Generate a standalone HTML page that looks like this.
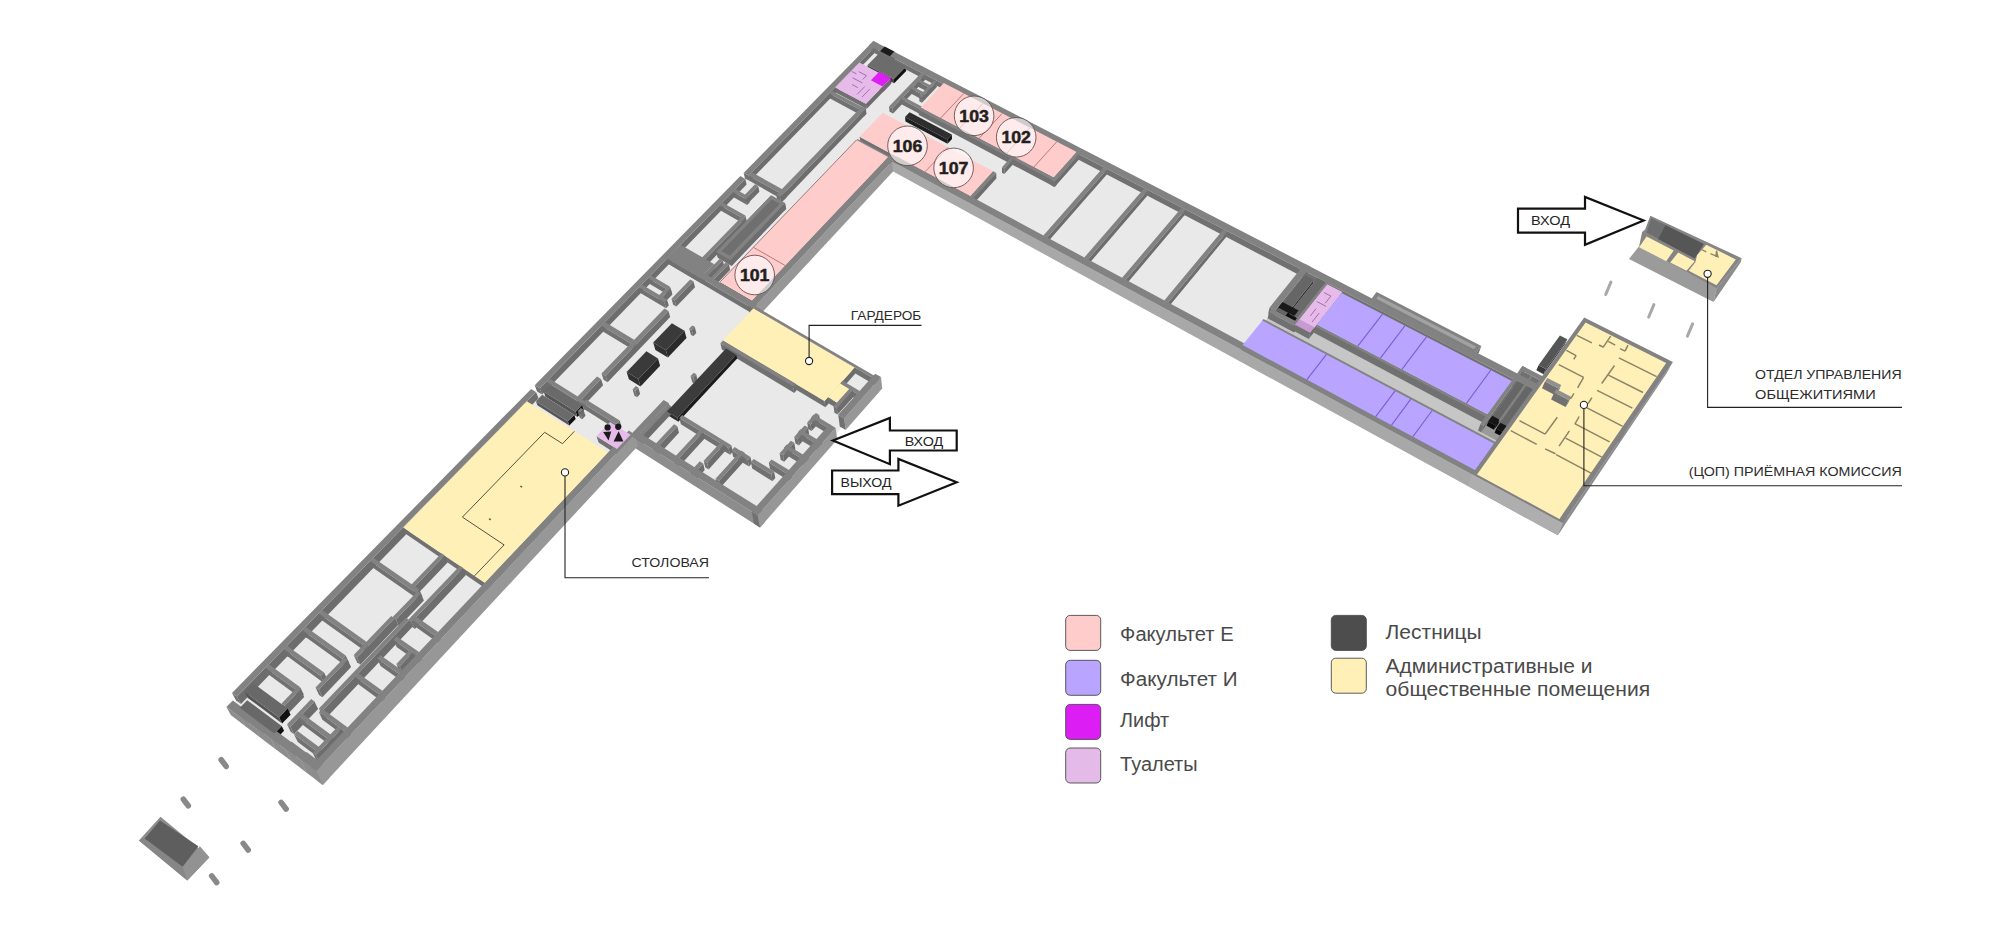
<!DOCTYPE html>
<html><head><meta charset="utf-8"><title>План 1 этажа</title>
<style>html,body{margin:0;padding:0;background:#fff}svg{display:block}text{font-family:"Liberation Sans",sans-serif}</style>
</head><body>
<svg width="2001" height="951" viewBox="0 0 2001 951">
<rect width="2001" height="951" fill="#ffffff"/>
<g shape-rendering="geometricPrecision" stroke-linejoin="round">
<polygon points="874.1,46.0 962.7,92.2 319.9,778.6 227.5,709.0" fill="#e9e9e9"/>
<polygon points="873.6,45.8 1623.2,436.4 1560.1,529.7 802.9,118.2" fill="#e9e9e9"/>
<polygon points="758.1,310.7 881.1,383.1 758.9,521.1 634.5,442.6" fill="#e9e9e9"/>
<polygon points="1581.2,323.6 1669.4,368.1 1560.1,529.7 1469.8,480.7" fill="#e9e9e9"/>
<polygon points="1276.3,307.4 1512.4,432.7 1497.1,454.3 1260.4,327.4" fill="#c6c6c6"/>
<polygon points="1519.6,377.2 1539.3,387.4 1500.3,442.5 1480.5,431.9" fill="#9a9a9a"/>
<polygon points="895.1,58.1 890.6,62.7 889.8,56.2 894.3,51.6" fill="#000"/>
<polygon points="880.9,57.7 890.6,62.7 889.8,56.2 880.1,51.2" fill="#111"/>
<polygon points="906.2,70.9 894.2,83.3 893.8,79.1 905.8,66.7" fill="#111"/>
<polygon points="868.0,69.5 894.2,83.3 893.8,79.1 867.4,65.3" fill="#444"/>
<polygon points="891.5,83.1 883.3,91.7 882.6,86.5 890.9,77.9" fill="#8a12a0"/>
<polygon points="871.6,85.5 883.3,91.7 882.6,86.5 870.9,80.3" fill="#a015b8"/>
<polygon points="931.4,90.8 929.5,92.8 929.1,87.5 931.0,85.6" fill="#6d6d6d"/>
<polygon points="916.7,86.0 929.5,92.8 929.1,87.5 916.2,80.8" fill="#717171"/>
<polygon points="924.7,97.9 922.8,99.9 922.4,94.6 924.3,92.6" fill="#6d6d6d"/>
<polygon points="910.0,93.1 922.8,99.9 922.4,94.6 909.5,87.9" fill="#717171"/>
<polygon points="936.9,86.9 922.0,102.7 921.6,97.4 936.5,81.7" fill="#6d6d6d"/>
<polygon points="919.5,101.4 922.0,102.7 921.6,97.4 919.1,96.1" fill="#717171"/>
<polygon points="890.8,83.9 866.6,109.1 865.9,103.8 890.2,78.7" fill="#6d6d6d"/>
<polygon points="835.9,92.7 866.6,109.1 865.9,103.8 835.1,87.4" fill="#717171"/>
<polygon points="926.0,78.9 893.1,113.6 892.5,108.3 925.6,73.7" fill="#6d6d6d"/>
<polygon points="889.6,111.8 893.1,113.6 892.5,108.3 889.0,106.4" fill="#717171"/>
<polygon points="923.1,112.2 920.8,114.6 920.4,109.3 922.7,106.9" fill="#6d6d6d"/>
<polygon points="900.0,103.6 920.8,114.6 920.4,109.3 899.5,98.3" fill="#717171"/>
<polygon points="866.2,114.1 863.8,116.7 863.0,111.3 865.5,108.8" fill="#6d6d6d"/>
<polygon points="830.1,98.6 863.8,116.7 863.0,111.3 829.2,93.4" fill="#717171"/>
<polygon points="952.0,138.9 947.5,143.8 947.3,139.4 951.8,134.5" fill="#111"/>
<polygon points="905.5,121.4 947.5,143.8 947.3,139.4 905.0,117.0" fill="#1e1e1e"/>
<polygon points="892.1,162.7 890.2,164.7 889.6,159.2 891.5,157.2" fill="#6d6d6d"/>
<polygon points="856.3,146.3 890.2,164.7 889.6,159.2 855.6,140.9" fill="#717171"/>
<polygon points="1012.5,165.0 1004.3,174.0 1004.3,168.5 1012.5,159.5" fill="#6d6d6d"/>
<polygon points="1002.0,172.8 1004.3,174.0 1004.3,168.5 1002.0,167.3" fill="#717171"/>
<polygon points="878.9,48.5 749.8,181.1 748.5,175.6 878.2,43.5" fill="#6d6d6d"/>
<polygon points="745.0,178.4 749.8,181.1 748.5,175.6 743.6,172.9" fill="#717171"/>
<polygon points="1076.3,157.4 1053.6,183.1 1053.8,177.5 1076.7,151.9" fill="#6d6d6d"/>
<polygon points="921.0,112.9 1053.6,183.1 1053.8,177.5 920.5,107.5" fill="#717171"/>
<polygon points="1056.7,184.7 1054.6,187.1 1054.9,181.5 1057.0,179.2" fill="#6d6d6d"/>
<polygon points="918.9,115.1 1054.6,187.1 1054.9,181.5 918.4,109.8" fill="#717171"/>
<polygon points="1079.4,159.0 1054.6,187.1 1054.9,181.5 1079.8,153.6" fill="#6d6d6d"/>
<polygon points="1051.5,185.4 1054.6,187.1 1054.9,181.5 1051.7,179.8" fill="#717171"/>
<polygon points="786.9,196.9 783.7,200.2 782.6,194.6 785.8,191.2" fill="#6d6d6d"/>
<polygon points="749.8,181.1 783.7,200.2 782.6,194.6 748.5,175.6" fill="#717171"/>
<polygon points="993.2,176.8 970.6,201.8 970.4,196.2 993.2,171.2" fill="#6d6d6d"/>
<polygon points="860.4,142.1 970.6,201.8 970.4,196.2 859.6,136.7" fill="#717171"/>
<polygon points="866.5,113.8 781.3,202.7 780.2,197.1 865.8,108.5" fill="#6d6d6d"/>
<polygon points="777.4,200.5 781.3,202.7 780.2,197.1 776.2,194.9" fill="#717171"/>
<polygon points="759.4,191.7 748.1,203.3 746.8,197.7 758.2,186.1" fill="#6d6d6d"/>
<polygon points="745.0,201.6 748.1,203.3 746.8,197.7 743.7,195.9" fill="#717171"/>
<polygon points="996.3,178.4 973.7,203.5 973.5,197.9 996.3,172.9" fill="#6d6d6d"/>
<polygon points="970.6,201.8 973.7,203.5 973.5,197.9 970.4,196.2" fill="#717171"/>
<polygon points="749.8,202.2 747.2,204.9 745.9,199.2 748.5,196.6" fill="#6d6d6d"/>
<polygon points="734.0,197.4 747.2,204.9 745.9,199.2 732.6,191.8" fill="#717171"/>
<polygon points="786.2,208.7 783.8,211.2 782.7,205.6 785.1,203.1" fill="#6d6d6d"/>
<polygon points="770.0,203.4 783.8,211.2 782.7,205.6 768.8,197.8" fill="#717171"/>
<polygon points="746.7,221.3 744.1,224.0 742.7,218.3 745.4,215.6" fill="#6d6d6d"/>
<polygon points="721.0,210.8 744.1,224.0 742.7,218.3 719.5,205.1" fill="#717171"/>
<polygon points="1106.8,174.5 1046.8,243.1 1047.1,237.4 1107.3,169.0" fill="#6d6d6d"/>
<polygon points="1043.2,241.2 1046.8,243.1 1047.1,237.4 1043.4,235.4" fill="#717171"/>
<polygon points="774.9,203.0 721.1,259.1 719.6,253.2 773.8,197.4" fill="#6d6d6d"/>
<polygon points="718.1,257.3 721.1,259.1 719.6,253.2 716.6,251.5" fill="#717171"/>
<polygon points="1147.3,195.7 1087.6,265.3 1088.1,259.4 1148.0,190.1" fill="#6d6d6d"/>
<polygon points="1083.9,263.3 1087.6,265.3 1088.1,259.4 1084.4,257.4" fill="#717171"/>
<polygon points="785.8,209.1 732.0,265.4 730.6,259.6 784.7,203.5" fill="#6d6d6d"/>
<polygon points="718.1,257.3 732.0,265.4 730.6,259.6 716.6,251.5" fill="#717171"/>
<polygon points="785.8,209.1 732.0,265.4 730.6,259.6 784.7,203.5" fill="#6d6d6d"/>
<polygon points="729.1,263.7 732.0,265.4 730.6,259.6 727.6,257.8" fill="#717171"/>
<polygon points="734.1,263.3 731.6,265.9 730.2,260.0 732.7,257.4" fill="#6d6d6d"/>
<polygon points="717.7,257.8 731.6,265.9 730.2,260.0 716.2,251.9" fill="#717171"/>
<polygon points="747.0,223.5 705.8,266.3 704.2,260.5 745.6,217.8" fill="#6d6d6d"/>
<polygon points="702.6,264.5 705.8,266.3 704.2,260.5 701.0,258.6" fill="#717171"/>
<polygon points="724.2,266.3 709.2,282.0 707.7,276.0 722.8,260.4" fill="#6d6d6d"/>
<polygon points="706.3,280.2 709.2,282.0 707.7,276.0 704.7,274.3" fill="#717171"/>
<polygon points="715.4,269.9 702.0,283.8 700.4,277.9 713.9,264.0" fill="#6d6d6d"/>
<polygon points="668.9,264.3 702.0,283.8 700.4,277.9 667.1,258.5" fill="#717171"/>
<polygon points="730.2,269.8 715.2,285.5 713.7,279.6 728.8,263.9" fill="#6d6d6d"/>
<polygon points="712.2,283.7 715.2,285.5 713.7,279.6 710.7,277.8" fill="#717171"/>
<polygon points="1184.5,215.2 1125.2,285.6 1125.8,279.7 1185.5,209.5" fill="#6d6d6d"/>
<polygon points="1121.5,283.6 1125.2,285.6 1125.8,279.7 1122.1,277.7" fill="#717171"/>
<polygon points="671.7,292.6 669.0,295.4 667.3,289.5 670.0,286.7" fill="#6d6d6d"/>
<polygon points="649.8,284.0 669.0,295.4 667.3,289.5 647.9,278.0" fill="#717171"/>
<polygon points="672.4,294.5 663.0,304.2 661.3,298.2 670.7,288.6" fill="#6d6d6d"/>
<polygon points="659.8,302.3 663.0,304.2 661.3,298.2 658.1,296.3" fill="#717171"/>
<polygon points="888.6,162.4 753.3,306.5 752.0,300.5 888.1,156.9" fill="#6d6d6d"/>
<polygon points="721.6,287.8 753.3,306.5 752.0,300.5 720.1,281.9" fill="#717171"/>
<polygon points="695.0,287.3 676.4,306.6 674.7,300.6 693.4,281.3" fill="#6d6d6d"/>
<polygon points="673.2,304.7 676.4,306.6 674.7,300.6 671.5,298.7" fill="#717171"/>
<polygon points="668.8,305.4 666.0,308.3 664.3,302.3 667.0,299.4" fill="#6d6d6d"/>
<polygon points="640.8,293.2 666.0,308.3 664.3,302.3 638.9,287.2" fill="#717171"/>
<polygon points="1226.2,237.0 1167.3,308.4 1168.1,302.4 1227.4,231.2" fill="#6d6d6d"/>
<polygon points="1163.5,306.4 1167.3,308.4 1168.1,302.4 1164.3,300.4" fill="#717171"/>
<polygon points="758.5,310.2 754.3,314.7 753.0,308.7 757.2,304.2" fill="#6d6d6d"/>
<polygon points="668.9,264.3 754.3,314.7 753.0,308.7 667.1,258.5" fill="#717171"/>
<polygon points="1308.8,272.6 1273.9,316.5 1275.3,310.4 1310.4,266.7" fill="#6d6d6d"/>
<polygon points="1268.2,313.4 1273.9,316.5 1275.3,310.4 1269.6,307.4" fill="#717171"/>
<polygon points="897.7,166.6 755.8,319.2 753.4,308.2 896.7,156.6" fill="#979797"/>
<polygon points="750.2,315.9 755.8,319.2 753.4,308.2 747.8,304.9" fill="#717171"/>
<polygon points="1313.0,283.5 1284.6,319.5 1285.5,315.7 1314.0,279.8" fill="#333"/>
<polygon points="1275.4,314.7 1284.6,319.5 1285.5,315.7 1276.3,310.8" fill="#111"/>
<polygon points="1297.2,315.9 1292.9,321.4 1294.2,315.9 1298.6,310.4" fill="#000"/>
<polygon points="1276.8,312.8 1292.9,321.4 1294.2,315.9 1278.1,307.4" fill="#0a0a0a"/>
<polygon points="1324.7,287.1 1296.3,323.2 1297.6,318.3 1326.1,282.3" fill="#333"/>
<polygon points="1287.7,318.6 1296.3,323.2 1297.6,318.3 1288.9,313.7" fill="#111"/>
<polygon points="1327.0,288.3 1295.8,328.1 1297.3,322.0 1328.7,282.4" fill="#6d6d6d"/>
<polygon points="1293.5,326.9 1295.8,328.1 1297.3,322.0 1295.0,320.8" fill="#717171"/>
<polygon points="1296.9,328.7 1294.1,332.4 1295.6,326.3 1298.4,322.6" fill="#6d6d6d"/>
<polygon points="1267.6,318.3 1294.1,332.4 1295.6,326.3 1269.0,312.2" fill="#717171"/>
<polygon points="1340.6,298.0 1312.3,334.3 1313.8,328.2 1342.3,292.0" fill="#6d6d6d"/>
<polygon points="1297.2,326.3 1312.3,334.3 1313.8,328.2 1298.7,320.2" fill="#717171"/>
<polygon points="696.3,332.9 693.3,336.2 691.7,330.1 694.8,326.8" fill="#6d6d6d"/>
<polygon points="690.9,334.7 693.3,336.2 691.7,330.1 689.2,328.6" fill="#717171"/>
<polygon points="1313.0,333.4 1308.7,338.9 1310.2,332.7 1314.6,327.3" fill="#6d6d6d"/>
<polygon points="1293.6,330.8 1308.7,338.9 1310.2,332.7 1295.1,324.7" fill="#717171"/>
<polygon points="636.1,346.0 632.6,349.6 630.7,343.4 634.2,339.8" fill="#6d6d6d"/>
<polygon points="603.3,331.7 632.6,349.6 630.7,343.4 601.3,325.6" fill="#717171"/>
<polygon points="1473.7,352.7 1471.6,355.5 1474.0,349.3 1476.1,346.5" fill="#6d6d6d"/>
<polygon points="1374.4,304.8 1471.6,355.5 1474.0,349.3 1376.3,298.8" fill="#717171"/>
<polygon points="686.5,338.0 667.9,357.5 665.9,350.2 684.5,330.8" fill="#2a2a2a"/>
<polygon points="655.4,349.9 667.9,357.5 665.9,350.2 653.2,342.6" fill="#303030"/>
<polygon points="1479.0,352.2 1474.2,358.8 1476.6,352.6 1481.4,346.1" fill="#6d6d6d"/>
<polygon points="1369.8,304.4 1474.2,358.8 1476.6,352.6 1371.7,298.4" fill="#717171"/>
<polygon points="1564.9,344.2 1543.6,374.2 1545.9,369.0 1567.3,339.2" fill="#333"/>
<polygon points="1536.3,370.3 1543.6,374.2 1545.9,369.0 1538.5,365.2" fill="#3a3a3a"/>
<polygon points="670.2,317.0 607.6,382.3 605.6,376.0 668.5,310.9" fill="#6d6d6d"/>
<polygon points="603.6,379.8 607.6,382.3 605.6,376.0 601.5,373.5" fill="#717171"/>
<polygon points="697.8,380.5 694.7,383.8 693.1,377.6 696.2,374.2" fill="#6d6d6d"/>
<polygon points="692.2,382.3 694.7,383.8 693.1,377.6 690.6,376.1" fill="#717171"/>
<polygon points="660.1,365.7 640.5,386.5 638.3,379.0 658.0,358.4" fill="#2a2a2a"/>
<polygon points="628.9,379.3 640.5,386.5 638.3,379.0 626.6,371.9" fill="#303030"/>
<polygon points="880.2,385.1 878.3,387.1 877.7,380.8 879.5,378.8" fill="#6d6d6d"/>
<polygon points="754.7,314.3 878.3,387.1 877.7,380.8 753.4,308.2" fill="#717171"/>
<polygon points="1543.2,384.3 1540.5,388.1 1543.3,381.8 1546.0,378.0" fill="#6d6d6d"/>
<polygon points="1517.1,375.9 1540.5,388.1 1543.3,381.8 1519.8,369.7" fill="#717171"/>
<polygon points="796.8,390.1 794.3,392.9 793.2,386.6 795.8,383.8" fill="#6d6d6d"/>
<polygon points="721.8,349.4 794.3,392.9 793.2,386.6 720.4,343.2" fill="#717171"/>
<polygon points="746.6,184.4 542.1,394.6 539.7,388.3 745.3,178.9" fill="#6d6d6d"/>
<polygon points="537.1,391.5 542.1,394.6 539.7,388.3 534.7,385.2" fill="#717171"/>
<polygon points="640.2,393.9 637.0,397.3 635.1,391.0 638.3,387.6" fill="#6d6d6d"/>
<polygon points="634.5,395.8 637.0,397.3 635.1,391.0 632.6,389.4" fill="#717171"/>
<polygon points="860.4,397.2 857.9,400.0 857.2,393.7 859.7,390.9" fill="#6d6d6d"/>
<polygon points="840.9,389.9 857.9,400.0 857.2,393.7 840.1,383.6" fill="#717171"/>
<polygon points="603.1,385.3 582.6,406.7 580.4,400.4 601.0,379.1" fill="#6d6d6d"/>
<polygon points="578.5,404.2 582.6,406.7 580.4,400.4 576.3,397.8" fill="#717171"/>
<polygon points="855.4,373.6 825.4,407.2 824.5,400.9 854.7,367.4" fill="#6d6d6d"/>
<polygon points="724.4,346.6 825.4,407.2 824.5,400.9 722.9,340.5" fill="#717171"/>
<polygon points="852.0,395.7 839.4,409.8 838.5,403.5 851.2,389.4" fill="#6d6d6d"/>
<polygon points="828.8,403.5 839.4,409.8 838.5,403.5 827.8,397.1" fill="#717171"/>
<polygon points="586.9,407.2 584.2,410.0 582.1,403.7 584.8,400.9" fill="#6d6d6d"/>
<polygon points="548.8,387.7 584.2,410.0 582.1,403.7 546.5,381.4" fill="#717171"/>
<polygon points="853.6,396.7 837.6,414.6 836.8,408.2 852.8,390.4" fill="#6d6d6d"/>
<polygon points="834.4,412.7 837.6,414.6 836.8,408.2 833.6,406.3" fill="#717171"/>
<polygon points="583.8,410.5 577.5,417.1 575.7,411.8 582.0,405.3" fill="#111"/>
<polygon points="545.5,396.8 577.5,417.1 575.7,411.8 543.6,391.6" fill="#555"/>
<polygon points="585.5,415.8 582.2,419.2 580.1,412.8 583.3,409.4" fill="#6d6d6d"/>
<polygon points="579.8,417.7 582.2,419.2 580.1,412.8 577.6,411.3" fill="#717171"/>
<polygon points="1510.2,387.9 1486.2,421.5 1488.7,415.1 1512.8,381.6" fill="#6d6d6d"/>
<polygon points="1315.1,330.6 1486.2,421.5 1488.7,415.1 1316.7,324.5" fill="#717171"/>
<polygon points="737.2,358.6 678.4,421.8 677.3,417.7 736.3,354.7" fill="#1c1c1c"/>
<polygon points="668.1,415.4 678.4,421.8 677.3,417.7 667.0,411.4" fill="#2c2c2c"/>
<polygon points="1486.2,421.5 1484.7,423.6 1487.1,417.2 1488.7,415.1" fill="#6d6d6d"/>
<polygon points="1313.5,332.6 1484.7,423.6 1487.1,417.2 1315.1,326.5" fill="#717171"/>
<polygon points="1526.8,383.6 1497.5,424.8 1498.6,421.9 1528.1,380.7" fill="#444"/>
<polygon points="1490.0,420.9 1497.5,424.8 1498.6,421.9 1491.2,418.0" fill="#111"/>
<polygon points="575.7,419.0 569.3,425.6 567.9,421.5 574.3,414.9" fill="#111"/>
<polygon points="537.4,405.2 569.3,425.6 567.9,421.5 535.9,401.2" fill="#555"/>
<polygon points="1530.1,382.7 1498.0,427.8 1500.5,421.3 1532.8,376.4" fill="#6d6d6d"/>
<polygon points="1496.1,426.8 1498.0,427.8 1500.5,421.3 1498.7,420.3" fill="#717171"/>
<polygon points="1498.2,423.8 1494.0,429.7 1495.6,425.6 1499.8,419.8" fill="#000"/>
<polygon points="1486.6,425.7 1494.0,429.7 1495.6,425.6 1488.2,421.6" fill="#0a0a0a"/>
<polygon points="882.2,388.5 845.7,430.1 844.2,418.4 881.0,377.1" fill="#979797"/>
<polygon points="839.8,426.5 845.7,430.1 844.2,418.4 838.2,414.8" fill="#717171"/>
<polygon points="621.6,426.9 618.1,430.6 616.1,424.2 619.7,420.4" fill="#6d6d6d"/>
<polygon points="584.7,409.6 618.1,430.6 616.1,424.2 582.5,403.2" fill="#717171"/>
<polygon points="820.1,421.5 811.6,431.0 810.6,424.6 819.2,415.1" fill="#6d6d6d"/>
<polygon points="808.2,429.0 811.6,431.0 810.6,424.6 807.2,422.5" fill="#717171"/>
<polygon points="1536.1,388.4 1505.4,431.7 1506.6,428.8 1537.3,385.5" fill="#444"/>
<polygon points="1498.1,427.8 1505.4,431.7 1506.6,428.8 1499.2,424.9" fill="#111"/>
<polygon points="1522.9,373.7 1481.1,432.2 1483.6,425.7 1525.6,367.5" fill="#6d6d6d"/>
<polygon points="1478.0,430.5 1481.1,432.2 1483.6,425.7 1480.4,424.1" fill="#717171"/>
<polygon points="831.8,431.3 829.1,434.4 828.2,427.9 830.9,424.9" fill="#6d6d6d"/>
<polygon points="812.0,424.1 829.1,434.4 828.2,427.9 811.0,417.6" fill="#717171"/>
<polygon points="1506.1,430.7 1501.9,436.6 1503.6,432.4 1507.7,426.6" fill="#000"/>
<polygon points="1494.6,432.7 1501.9,436.6 1503.6,432.4 1496.2,428.6" fill="#0a0a0a"/>
<polygon points="1623.2,436.4 1619.2,442.3 1622.4,435.8 1626.4,429.9" fill="#6d6d6d"/>
<polygon points="869.6,50.6 1619.2,442.3 1622.4,435.8 868.9,45.5" fill="#717171"/>
<polygon points="1543.8,384.6 1502.2,443.4 1504.8,437.0 1546.6,378.3" fill="#6d6d6d"/>
<polygon points="1499.1,441.8 1502.2,443.4 1504.8,437.0 1501.6,435.3" fill="#717171"/>
<polygon points="670.4,409.5 637.6,444.5 635.7,438.0 668.7,403.1" fill="#6d6d6d"/>
<polygon points="632.5,441.3 637.6,444.5 635.7,438.0 630.6,434.8" fill="#717171"/>
<polygon points="809.1,433.9 798.8,445.4 797.8,438.9 808.1,427.4" fill="#6d6d6d"/>
<polygon points="795.4,443.3 798.8,445.4 797.8,438.9 794.3,436.8" fill="#717171"/>
<polygon points="672.7,412.4 640.8,446.5 638.9,440.0 671.0,406.0" fill="#6d6d6d"/>
<polygon points="637.5,444.5 640.8,446.5 638.9,440.0 635.6,438.0" fill="#717171"/>
<polygon points="1495.1,449.8 1494.1,451.3 1496.6,444.8 1497.7,443.3" fill="#6d6d6d"/>
<polygon points="1261.1,326.5 1494.1,451.3 1496.6,444.8 1262.4,320.4" fill="#717171"/>
<polygon points="824.0,449.5 821.2,452.6 820.3,446.0 823.0,443.0" fill="#6d6d6d"/>
<polygon points="798.7,438.9 821.2,452.6 820.3,446.0 797.7,432.4" fill="#717171"/>
<polygon points="732.8,451.7 730.0,454.8 728.6,448.3 731.4,445.2" fill="#6d6d6d"/>
<polygon points="680.9,424.3 730.0,454.8 728.6,448.3 679.3,417.9" fill="#717171"/>
<polygon points="632.5,441.3 619.0,455.7 617.0,449.1 630.6,434.8" fill="#6d6d6d"/>
<polygon points="598.6,442.6 619.0,455.7 617.0,449.1 596.5,436.2" fill="#717171"/>
<polygon points="679.0,432.7 657.7,455.7 655.9,449.1 677.3,426.3" fill="#6d6d6d"/>
<polygon points="654.4,453.6 657.7,455.7 655.9,449.1 652.6,447.1" fill="#717171"/>
<polygon points="795.4,449.3 784.2,461.8 783.0,455.3 794.3,442.7" fill="#6d6d6d"/>
<polygon points="780.7,459.7 784.2,461.8 783.0,455.3 779.6,453.2" fill="#717171"/>
<polygon points="751.8,463.5 749.0,466.6 747.7,460.1 750.5,457.0" fill="#6d6d6d"/>
<polygon points="733.1,456.8 749.0,466.6 747.7,460.1 731.7,450.2" fill="#717171"/>
<polygon points="704.9,438.3 678.4,467.2 676.7,460.6 703.4,431.8" fill="#6d6d6d"/>
<polygon points="675.0,465.1 678.4,467.2 676.7,460.6 673.3,458.5" fill="#717171"/>
<polygon points="810.3,465.0 807.5,468.1 806.5,461.5 809.3,458.4" fill="#6d6d6d"/>
<polygon points="785.0,454.2 807.5,468.1 806.5,461.5 783.9,447.7" fill="#717171"/>
<polygon points="727.1,449.1 708.6,469.4 707.1,462.8 725.7,442.6" fill="#6d6d6d"/>
<polygon points="705.2,467.3 708.6,469.4 707.1,462.8 703.7,460.7" fill="#717171"/>
<polygon points="1494.1,451.3 1475.1,478.0 1477.6,471.4 1496.6,444.8" fill="#6d6d6d"/>
<polygon points="1241.4,351.2 1475.1,478.0 1477.6,471.4 1242.6,345.1" fill="#717171"/>
<polygon points="704.7,470.0 695.0,480.7 693.4,474.1 703.2,463.4" fill="#6d6d6d"/>
<polygon points="691.6,478.6 695.0,480.7 693.4,474.1 690.0,472.0" fill="#717171"/>
<polygon points="792.1,477.9 789.4,481.1 788.2,474.4 791.0,471.3" fill="#6d6d6d"/>
<polygon points="770.0,469.1 789.4,481.1 788.2,474.4 768.8,462.5" fill="#717171"/>
<polygon points="775.3,478.1 772.5,481.2 771.3,474.6 774.1,471.5" fill="#6d6d6d"/>
<polygon points="752.2,468.6 772.5,481.2 771.3,474.6 750.9,462.0" fill="#717171"/>
<polygon points="745.9,459.3 720.4,487.5 718.9,480.9 744.6,452.7" fill="#6d6d6d"/>
<polygon points="717.0,485.4 720.4,487.5 718.9,480.9 715.5,478.7" fill="#717171"/>
<polygon points="1662.8,369.2 1556.6,525.7 1559.4,518.9 1666.2,362.9" fill="#6d6d6d"/>
<polygon points="1474.6,481.2 1556.6,525.7 1559.4,518.9 1477.0,474.6" fill="#717171"/>
<polygon points="764.9,522.0 760.0,527.5 757.7,515.2 762.6,509.7" fill="#979797"/>
<polygon points="635.7,448.4 760.0,527.5 757.7,515.2 632.2,436.6" fill="#8d8d8d"/>
<polygon points="837.2,439.6 760.0,527.5 757.7,515.2 835.7,427.9" fill="#979797"/>
<polygon points="754.1,523.8 760.0,527.5 757.7,515.2 751.7,511.4" fill="#717171"/>
<polygon points="1561.9,529.1 1557.7,535.3 1562.9,522.9 1567.1,516.8" fill="#979797"/>
<polygon points="893.1,171.5 1557.7,535.3 1562.9,522.9 892.0,161.5" fill="#a8a8a8"/>
<polygon points="1666.6,373.2 1557.7,535.3 1562.9,522.9 1672.9,361.9" fill="#8c8c8c"/>
<polygon points="1467.9,486.1 1557.7,535.3 1562.9,522.9 1472.2,474.0" fill="#aeaeae"/>
<polygon points="610.0,459.2 487.4,589.7 484.8,582.7 608.0,452.6" fill="#6d6d6d"/>
<polygon points="406.3,534.2 487.4,589.7 484.8,582.7 403.2,527.4" fill="#717171"/>
<polygon points="447.6,562.5 417.3,594.2 414.3,587.1 444.7,555.5" fill="#6d6d6d"/>
<polygon points="414.0,591.9 417.3,594.2 414.3,587.1 411.0,584.9" fill="#717171"/>
<polygon points="422.4,596.7 419.2,600.0 416.2,592.9 419.4,589.6" fill="#6d6d6d"/>
<polygon points="373.3,568.0 419.2,600.0 416.2,592.9 370.1,561.1" fill="#717171"/>
<polygon points="423.9,600.5 399.1,626.6 396.0,619.4 420.9,593.5" fill="#6d6d6d"/>
<polygon points="395.9,624.3 399.1,626.6 396.0,619.4 392.7,617.1" fill="#717171"/>
<polygon points="465.9,575.0 414.9,628.9 411.8,621.7 463.2,568.1" fill="#6d6d6d"/>
<polygon points="411.6,626.6 414.9,628.9 411.8,621.7 408.5,619.4" fill="#717171"/>
<polygon points="441.0,639.2 437.8,642.6 434.9,635.4 438.1,632.0" fill="#6d6d6d"/>
<polygon points="413.6,625.6 437.8,642.6 434.9,635.4 410.5,618.4" fill="#717171"/>
<polygon points="369.4,648.6 366.2,652.0 362.9,644.8 366.1,641.4" fill="#6d6d6d"/>
<polygon points="322.2,620.5 366.2,652.0 362.9,644.8 318.7,613.4" fill="#717171"/>
<polygon points="422.0,659.4 418.8,662.8 415.8,655.5 419.0,652.1" fill="#6d6d6d"/>
<polygon points="396.6,647.0 418.8,662.8 415.8,655.5 393.5,639.8" fill="#717171"/>
<polygon points="397.6,625.5 360.3,664.7 357.0,657.4 394.5,618.3" fill="#6d6d6d"/>
<polygon points="357.0,662.3 360.3,664.7 357.0,657.4 353.7,655.0" fill="#717171"/>
<polygon points="349.1,662.7 345.8,666.1 342.4,658.8 345.7,655.4" fill="#6d6d6d"/>
<polygon points="305.9,637.3 345.8,666.1 342.4,658.8 302.3,630.1" fill="#717171"/>
<polygon points="416.9,658.6 402.8,673.6 399.7,666.3 413.9,651.3" fill="#6d6d6d"/>
<polygon points="399.5,671.2 402.8,673.6 399.7,666.3 396.4,663.9" fill="#717171"/>
<polygon points="404.9,677.6 401.7,681.1 398.6,673.7 401.8,670.3" fill="#6d6d6d"/>
<polygon points="380.5,665.9 401.7,681.1 398.6,673.7 377.3,658.6" fill="#717171"/>
<polygon points="327.5,679.8 324.2,683.2 320.7,675.9 324.1,672.4" fill="#6d6d6d"/>
<polygon points="287.4,656.3 324.2,683.2 320.7,675.9 283.7,649.0" fill="#717171"/>
<polygon points="351.1,667.1 322.3,697.2 318.8,689.8 347.7,659.8" fill="#6d6d6d"/>
<polygon points="319.0,694.9 322.3,697.2 318.8,689.8 315.5,687.5" fill="#717171"/>
<polygon points="303.8,694.6 300.5,698.1 296.9,690.6 300.2,687.2" fill="#6d6d6d"/>
<polygon points="269.2,675.0 300.5,698.1 296.9,690.6 265.5,667.7" fill="#717171"/>
<polygon points="385.6,698.2 382.3,701.7 379.1,694.3 382.4,690.8" fill="#6d6d6d"/>
<polygon points="357.0,683.3 382.3,701.7 379.1,694.3 353.7,676.0" fill="#717171"/>
<polygon points="538.5,398.3 241.0,704.0 237.0,696.6 536.0,392.0" fill="#6d6d6d"/>
<polygon points="236.0,700.3 241.0,704.0 237.0,696.6 232.0,692.9" fill="#717171"/>
<polygon points="304.2,696.9 288.5,713.3 284.8,705.8 300.6,689.5" fill="#6d6d6d"/>
<polygon points="285.3,710.8 288.5,713.3 284.8,705.8 281.6,703.4" fill="#717171"/>
<polygon points="412.3,627.1 325.7,718.4 322.2,710.9 409.2,619.9" fill="#6d6d6d"/>
<polygon points="322.4,715.9 325.7,718.4 322.2,710.9 318.9,708.5" fill="#717171"/>
<polygon points="290.6,714.8 282.1,723.5 279.1,717.4 287.6,708.6" fill="#111"/>
<polygon points="247.8,697.9 282.1,723.5 279.1,717.4 244.6,691.8" fill="#555"/>
<polygon points="252.1,719.9 245.7,726.4 241.5,718.3 247.8,711.7" fill="#979797"/>
<polygon points="230.8,715.1 245.7,726.4 241.5,718.3 226.4,706.9" fill="#8d8d8d"/>
<polygon points="318.1,709.0 294.0,734.3 290.3,726.7 314.5,701.5" fill="#6d6d6d"/>
<polygon points="290.7,731.8 294.0,734.3 290.3,726.7 287.0,724.3" fill="#717171"/>
<polygon points="267.2,731.3 260.8,737.9 256.1,728.6 262.5,722.0" fill="#979797"/>
<polygon points="245.7,726.4 260.8,737.9 256.1,728.6 240.9,717.2" fill="#8d8d8d"/>
<polygon points="284.1,730.7 276.7,738.4 274.3,733.6 281.7,725.9" fill="#111"/>
<polygon points="242.3,712.5 276.7,738.4 274.3,733.6 239.8,707.8" fill="#555"/>
<polygon points="351.0,735.0 347.7,738.5 344.3,731.0 347.7,727.5" fill="#6d6d6d"/>
<polygon points="322.4,719.8 347.7,738.5 344.3,731.0 318.9,712.3" fill="#717171"/>
<polygon points="335.4,743.2 332.1,746.8 328.6,739.2 332.0,735.6" fill="#6d6d6d"/>
<polygon points="301.2,723.8 332.1,746.8 328.6,739.2 297.5,716.3" fill="#717171"/>
<polygon points="282.4,742.7 276.0,749.4 270.8,739.0 277.2,732.3" fill="#979797"/>
<polygon points="260.8,737.9 276.0,749.4 270.8,739.0 255.5,727.5" fill="#8d8d8d"/>
<polygon points="323.9,755.5 320.5,759.1 317.0,751.4 320.4,747.9" fill="#6d6d6d"/>
<polygon points="297.8,742.1 320.5,759.1 317.0,751.4 294.1,734.5" fill="#717171"/>
<polygon points="297.7,754.3 291.3,761.0 285.7,749.4 292.1,742.7" fill="#979797"/>
<polygon points="276.0,749.4 291.3,761.0 285.7,749.4 270.3,737.9" fill="#8d8d8d"/>
<polygon points="344.8,736.2 319.6,763.0 316.1,755.4 341.4,728.7" fill="#6d6d6d"/>
<polygon points="316.3,760.5 319.6,763.0 316.1,755.4 312.7,752.9" fill="#717171"/>
<polygon points="313.1,766.0 306.7,772.7 300.7,759.9 307.1,753.2" fill="#979797"/>
<polygon points="291.3,761.0 306.7,772.7 300.7,759.9 285.2,748.3" fill="#8d8d8d"/>
<polygon points="637.9,446.0 322.8,784.9 316.4,770.9 634.4,434.2" fill="#979797"/>
<polygon points="317.1,780.6 322.8,784.9 316.4,770.9 310.6,766.6" fill="#717171"/>
<polygon points="329.1,778.1 322.8,784.9 316.4,770.9 322.7,764.1" fill="#979797"/>
<polygon points="306.7,772.7 322.8,784.9 316.4,770.9 300.2,758.8" fill="#8d8d8d"/>
<polygon points="232.8,700.4 247.8,711.7 241.5,718.3 226.4,706.9" fill="#828282"/>
<polygon points="247.3,710.6 262.5,722.0 256.1,728.6 240.9,717.2" fill="#828282"/>
<polygon points="1520.7,376.9 1528.1,380.7 1498.6,421.9 1491.2,418.0" fill="#666"/>
<polygon points="1530.0,381.7 1537.3,385.5 1506.6,428.8 1499.2,424.9" fill="#666"/>
<polygon points="261.9,720.9 277.2,732.3 270.8,739.0 255.5,727.5" fill="#828282"/>
<polygon points="542.2,394.7 574.3,414.9 567.9,421.5 535.9,401.2" fill="#6a6a6a"/>
<polygon points="726.0,348.5 736.3,354.7 677.3,417.7 667.0,411.4" fill="#3c3c3c"/>
<polygon points="247.2,700.2 281.7,725.9 274.3,733.6 239.8,707.8" fill="#686868"/>
<polygon points="1304.9,275.0 1314.0,279.8 1285.5,315.7 1276.3,310.8" fill="#666"/>
<polygon points="1492.3,415.8 1499.8,419.8 1495.6,425.6 1488.2,421.6" fill="#151515"/>
<polygon points="1500.4,422.7 1507.7,426.6 1503.6,432.4 1496.2,428.6" fill="#151515"/>
<polygon points="276.7,731.2 292.1,742.7 285.7,749.4 270.3,737.9" fill="#828282"/>
<polygon points="549.9,385.2 582.0,405.3 575.7,411.8 543.6,391.6" fill="#6a6a6a"/>
<polygon points="253.1,683.2 287.6,708.6 279.1,717.4 244.6,691.8" fill="#686868"/>
<polygon points="879.4,53.0 905.8,66.7 893.8,79.1 867.4,65.3" fill="#6c6c6c"/>
<polygon points="909.6,112.2 951.8,134.5 947.3,139.4 905.0,117.0" fill="#2e2e2e"/>
<polygon points="1317.4,277.8 1326.1,282.3 1297.6,318.3 1288.9,313.7" fill="#6a6a6a"/>
<polygon points="1559.9,335.4 1567.3,339.2 1545.9,369.0 1538.5,365.2" fill="#555"/>
<polygon points="291.5,741.6 307.1,753.2 300.7,759.9 285.2,748.3" fill="#828282"/>
<polygon points="1282.4,302.0 1298.6,310.4 1294.2,315.9 1278.1,307.4" fill="#1a1a1a"/>
<polygon points="873.4,41.0 878.2,43.5 748.5,175.6 743.6,172.9" fill="#828282"/>
<polygon points="740.4,176.1 745.3,178.9 539.7,388.3 534.7,385.2" fill="#828282"/>
<polygon points="531.1,388.9 536.0,392.0 237.0,696.6 232.0,692.9" fill="#828282"/>
<polygon points="891.1,153.6 896.7,156.6 753.4,308.2 747.8,304.9" fill="#828282"/>
<polygon points="628.8,430.6 634.4,434.2 316.4,770.9 310.6,766.6" fill="#828282"/>
<polygon points="306.6,752.1 322.7,764.1 316.4,770.9 300.2,758.8" fill="#828282"/>
<polygon points="831.7,90.9 865.5,108.8 863.0,111.3 829.2,93.4" fill="#828282"/>
<polygon points="861.8,106.4 865.8,108.5 780.2,197.1 776.2,194.9" fill="#828282"/>
<polygon points="751.7,172.3 785.8,191.2 782.6,194.6 748.5,175.6" fill="#828282"/>
<polygon points="857.5,138.9 891.5,157.2 889.6,159.2 855.6,140.9" fill="#828282"/>
<polygon points="856.5,139.9 888.1,156.9 752.0,300.5 720.1,281.9" fill="#ffcccc"/>
<polygon points="882.7,112.7 993.2,171.2 970.4,196.2 859.6,136.7" fill="#ffcccc"/>
<polygon points="722.2,202.4 745.4,215.6 742.7,218.3 719.5,205.1" fill="#828282"/>
<polygon points="742.5,216.0 745.6,217.8 704.2,260.5 701.0,258.6" fill="#828282"/>
<polygon points="680.6,244.7 713.9,264.0 700.4,277.9 667.1,258.5" fill="#828282"/>
<polygon points="755.0,184.3 758.2,186.1 746.8,197.7 743.7,195.9" fill="#828282"/>
<polygon points="735.2,189.1 748.5,196.6 745.9,199.2 732.6,191.8" fill="#828282"/>
<polygon points="770.8,195.7 784.7,203.5 730.6,259.6 716.6,251.5" fill="#6f6f6f"/>
<polygon points="770.8,195.7 773.8,197.4 719.6,253.2 716.6,251.5" fill="#828282"/>
<polygon points="781.7,201.8 784.7,203.5 730.6,259.6 727.6,257.8" fill="#828282"/>
<polygon points="771.2,195.3 785.1,203.1 782.7,205.6 768.8,197.8" fill="#828282"/>
<polygon points="718.7,249.4 732.7,257.4 730.2,260.0 716.2,251.9" fill="#828282"/>
<polygon points="719.8,258.7 722.8,260.4 707.7,276.0 704.7,274.3" fill="#828282"/>
<polygon points="725.8,262.2 728.8,263.9 713.7,279.6 710.7,277.8" fill="#828282"/>
<polygon points="671.4,254.2 757.2,304.2 753.0,308.7 667.1,258.5" fill="#828282"/>
<polygon points="650.7,275.3 670.0,286.7 667.3,289.5 647.9,278.0" fill="#828282"/>
<polygon points="641.7,284.4 667.0,299.4 664.3,302.3 638.9,287.2" fill="#828282"/>
<polygon points="690.2,279.4 693.4,281.3 674.7,300.6 671.5,298.7" fill="#828282"/>
<polygon points="667.5,286.7 670.7,288.6 661.3,298.2 658.1,296.3" fill="#828282"/>
<polygon points="604.8,322.0 634.2,339.8 630.7,343.4 601.3,325.6" fill="#828282"/>
<polygon points="664.5,308.5 668.5,310.9 605.6,376.0 601.5,373.5" fill="#828282"/>
<polygon points="597.0,376.6 601.0,379.1 580.4,400.4 576.3,397.8" fill="#828282"/>
<polygon points="549.2,378.6 584.8,400.9 582.1,403.7 546.5,381.4" fill="#828282"/>
<polygon points="586.1,399.5 619.7,420.4 616.1,424.2 582.5,403.2" fill="#828282"/>
<polygon points="610.0,421.9 630.6,434.8 617.0,449.1 596.5,436.2" fill="#e6bbea"/>
<polygon points="663.6,399.9 668.7,403.1 635.7,438.0 630.6,434.8" fill="#828282"/>
<polygon points="692.3,325.4 694.8,326.8 691.7,330.1 689.2,328.6" fill="#828282"/>
<polygon points="693.8,372.7 696.2,374.2 693.1,377.6 690.6,376.1" fill="#828282"/>
<polygon points="635.8,386.1 638.3,387.6 635.1,391.0 632.6,389.4" fill="#828282"/>
<polygon points="580.9,407.9 583.3,409.4 580.1,412.8 577.6,411.3" fill="#828282"/>
<polygon points="526.9,401.3 608.0,452.6 484.8,582.7 403.2,527.4" fill="#fff0b8"/>
<polygon points="373.3,557.8 419.4,589.6 416.2,592.9 370.1,561.1" fill="#828282"/>
<polygon points="441.5,553.3 444.7,555.5 414.3,587.1 411.0,584.9" fill="#828282"/>
<polygon points="417.7,591.2 420.9,593.5 396.0,619.4 392.7,617.1" fill="#828282"/>
<polygon points="391.2,616.1 394.5,618.3 357.0,657.4 353.7,655.0" fill="#828282"/>
<polygon points="344.4,657.4 347.7,659.8 318.8,689.8 315.5,687.5" fill="#828282"/>
<polygon points="311.2,699.1 314.5,701.5 290.3,726.7 287.0,724.3" fill="#828282"/>
<polygon points="459.9,565.8 463.2,568.1 411.8,621.7 408.5,619.4" fill="#828282"/>
<polygon points="406.0,617.6 409.2,619.9 322.2,710.9 318.9,708.5" fill="#828282"/>
<polygon points="413.7,615.1 438.1,632.0 434.9,635.4 410.5,618.4" fill="#828282"/>
<polygon points="396.7,636.4 419.0,652.1 415.8,655.5 393.5,639.8" fill="#828282"/>
<polygon points="380.5,655.2 401.8,670.3 398.6,673.7 377.3,658.6" fill="#828282"/>
<polygon points="357.0,672.5 382.4,690.8 379.1,694.3 353.7,676.0" fill="#828282"/>
<polygon points="322.2,708.8 347.7,727.5 344.3,731.0 318.9,712.3" fill="#828282"/>
<polygon points="322.0,610.1 366.1,641.4 362.9,644.8 318.7,613.4" fill="#828282"/>
<polygon points="305.6,626.7 345.7,655.4 342.4,658.8 302.3,630.1" fill="#828282"/>
<polygon points="287.0,645.7 324.1,672.4 320.7,675.9 283.7,649.0" fill="#828282"/>
<polygon points="268.8,664.2 300.2,687.2 296.9,690.6 265.5,667.7" fill="#828282"/>
<polygon points="410.5,649.0 413.9,651.3 399.7,666.3 396.4,663.9" fill="#828282"/>
<polygon points="297.3,687.1 300.6,689.5 284.8,705.8 281.6,703.4" fill="#828282"/>
<polygon points="300.9,712.8 332.0,735.6 328.6,739.2 297.5,716.3" fill="#828282"/>
<polygon points="338.1,726.2 341.4,728.7 316.1,755.4 312.7,752.9" fill="#828282"/>
<polygon points="297.5,730.9 320.4,747.9 317.0,751.4 294.1,734.5" fill="#828282"/>
<polygon points="753.4,308.2 854.7,367.4 824.5,400.9 722.9,340.5" fill="#fff0b8"/>
<polygon points="840.5,383.1 851.2,389.4 838.5,403.5 827.8,397.1" fill="#fff0b8"/>
<polygon points="755.3,306.3 879.5,378.8 877.7,380.8 753.4,308.2" fill="#828282"/>
<polygon points="842.6,380.8 859.7,390.9 857.2,393.7 840.1,383.6" fill="#828282"/>
<polygon points="849.6,388.5 852.8,390.4 836.8,408.2 833.6,406.3" fill="#828282"/>
<polygon points="637.1,431.3 762.6,509.7 757.7,515.2 632.2,436.6" fill="#828282"/>
<polygon points="829.7,424.3 835.7,427.9 757.7,515.2 751.7,511.4" fill="#828282"/>
<polygon points="875.1,373.7 881.0,377.1 844.2,418.4 838.2,414.8" fill="#828282"/>
<polygon points="722.9,340.5 795.8,383.8 793.2,386.6 720.4,343.2" fill="#828282"/>
<polygon points="682.1,414.9 731.4,445.2 728.6,448.3 679.3,417.9" fill="#828282"/>
<polygon points="734.6,447.1 750.5,457.0 747.7,460.1 731.7,450.2" fill="#828282"/>
<polygon points="753.7,458.9 774.1,471.5 771.3,474.6 750.9,462.0" fill="#828282"/>
<polygon points="667.7,404.0 671.0,406.0 638.9,440.0 635.6,438.0" fill="#828282"/>
<polygon points="674.0,424.2 677.3,426.3 655.9,449.1 652.6,447.1" fill="#828282"/>
<polygon points="700.0,429.8 703.4,431.8 676.7,460.6 673.3,458.5" fill="#828282"/>
<polygon points="722.3,440.5 725.7,442.6 707.1,462.8 703.7,460.7" fill="#828282"/>
<polygon points="741.2,450.6 744.6,452.7 718.9,480.9 715.5,478.7" fill="#828282"/>
<polygon points="699.8,461.3 703.2,463.4 693.4,474.1 690.0,472.0" fill="#828282"/>
<polygon points="815.8,413.1 819.2,415.1 810.6,424.6 807.2,422.5" fill="#828282"/>
<polygon points="804.6,425.4 808.1,427.4 797.8,438.9 794.3,436.8" fill="#828282"/>
<polygon points="790.9,440.7 794.3,442.7 783.0,455.3 779.6,453.2" fill="#828282"/>
<polygon points="786.6,444.6 809.3,458.4 806.5,461.5 783.9,447.7" fill="#828282"/>
<polygon points="800.4,429.3 823.0,443.0 820.3,446.0 797.7,432.4" fill="#828282"/>
<polygon points="813.7,414.6 830.9,424.9 828.2,427.9 811.0,417.6" fill="#828282"/>
<polygon points="771.6,459.4 791.0,471.3 788.2,474.4 768.8,462.5" fill="#828282"/>
<polygon points="873.4,41.0 1626.4,429.9 1622.4,435.8 868.9,45.5" fill="#828282"/>
<polygon points="859.4,62.6 890.2,78.7 865.9,103.8 835.1,87.4" fill="#e6bbea"/>
<polygon points="879.2,71.7 890.9,77.9 882.6,86.5 870.9,80.3" fill="#dd1ef5"/>
<polygon points="922.2,72.0 925.6,73.7 892.5,108.3 889.0,106.4" fill="#828282"/>
<polygon points="901.8,95.9 922.7,106.9 920.4,109.3 899.5,98.3" fill="#828282"/>
<polygon points="911.4,85.9 924.3,92.6 922.4,94.6 909.5,87.9" fill="#828282"/>
<polygon points="918.1,78.9 931.0,85.6 929.1,87.5 916.2,80.8" fill="#828282"/>
<polygon points="934.1,80.4 936.5,81.7 921.6,97.4 919.1,96.1" fill="#828282"/>
<polygon points="943.8,83.1 1076.7,151.9 1053.8,177.5 920.5,107.5" fill="#ffcccc"/>
<polygon points="1010.2,158.3 1012.5,159.5 1004.3,168.5 1002.0,167.3" fill="#828282"/>
<polygon points="920.5,107.5 1057.0,179.2 1054.9,181.5 918.4,109.8" fill="#828282"/>
<polygon points="1076.7,151.9 1079.8,153.6 1054.9,181.5 1051.7,179.8" fill="#828282"/>
<polygon points="993.2,171.2 996.3,172.9 973.5,197.9 970.4,196.2" fill="#828282"/>
<polygon points="1316.7,324.5 1488.7,415.1 1487.1,417.2 1315.1,326.5" fill="#828282"/>
<polygon points="896.7,156.6 1567.1,516.8 1562.9,522.9 892.0,161.5" fill="#828282"/>
<polygon points="1103.7,167.1 1107.3,169.0 1047.1,237.4 1043.4,235.4" fill="#828282"/>
<polygon points="1144.3,188.2 1148.0,190.1 1088.1,259.4 1084.4,257.4" fill="#828282"/>
<polygon points="1181.8,207.6 1185.5,209.5 1125.8,279.7 1122.1,277.7" fill="#828282"/>
<polygon points="1223.6,229.2 1227.4,231.2 1168.1,302.4 1164.3,300.4" fill="#828282"/>
<polygon points="1304.7,263.7 1310.4,266.7 1275.3,310.4 1269.6,307.4" fill="#828282"/>
<polygon points="1326.4,281.2 1328.7,282.4 1297.3,322.0 1295.0,320.8" fill="#828282"/>
<polygon points="1271.9,308.6 1298.4,322.6 1295.6,326.3 1269.0,312.2" fill="#828282"/>
<polygon points="1327.3,284.2 1342.3,292.0 1313.8,328.2 1298.7,320.2" fill="#e6bbea"/>
<polygon points="1299.4,319.3 1314.6,327.3 1310.2,332.7 1295.1,324.7" fill="#c79bd0"/>
<polygon points="1341.6,292.9 1512.8,381.6 1488.7,415.1 1316.7,324.5" fill="#b9a5ff"/>
<polygon points="1262.4,320.4 1496.6,444.8 1477.6,471.4 1242.6,345.1" fill="#b9a5ff"/>
<polygon points="1263.5,319.0 1497.7,443.3 1496.6,444.8 1262.4,320.4" fill="#828282"/>
<polygon points="1376.6,292.1 1481.4,346.1 1476.6,352.6 1371.7,298.4" fill="#828282"/>
<polygon points="1522.5,365.9 1546.0,378.0 1543.3,381.8 1519.8,369.7" fill="#828282"/>
<polygon points="1522.5,365.9 1525.6,367.5 1483.6,425.7 1480.4,424.1" fill="#828282"/>
<polygon points="1543.5,376.7 1546.6,378.3 1504.8,437.0 1501.6,435.3" fill="#828282"/>
<polygon points="1530.9,375.4 1532.8,376.4 1500.5,421.3 1498.7,420.3" fill="#828282"/>
<polygon points="1584.2,317.5 1672.9,361.9 1562.9,522.9 1472.2,474.0" fill="#828282"/>
<polygon points="1378.4,296.1 1476.1,346.5 1474.0,349.3 1376.3,298.8" fill="#a2a2a2"/>
<polygon points="1585.6,322.5 1666.2,362.9 1559.4,518.9 1477.0,474.6" fill="#fff0b8"/>
<polygon points="671.9,323.2 684.5,330.8 665.9,350.2 653.2,342.6" fill="#3a3a3a"/>
<polygon points="646.4,351.3 658.0,358.4 638.3,379.0 626.6,371.9" fill="#3a3a3a"/>
<polygon points="884.6,46.6 894.3,51.6 889.8,56.2 880.1,51.2" fill="#1b1b1b"/>
<line x1="1576.8" y1="335.3" x2="1591.9" y2="342.9" stroke="#8c8466" stroke-width="1.5"/>
<line x1="1610.7" y1="336.1" x2="1603.1" y2="347.3" stroke="#8c8466" stroke-width="1.5"/>
<line x1="1608.3" y1="341.4" x2="1615.2" y2="345.1" stroke="#8c8466" stroke-width="1.5"/>
<line x1="1628.0" y1="345.1" x2="1625.0" y2="351.1" stroke="#8c8466" stroke-width="1.5"/>
<line x1="1618.9" y1="357.9" x2="1656.6" y2="376.7" stroke="#8c8466" stroke-width="1.5"/>
<line x1="1614.5" y1="365.5" x2="1601.7" y2="383.5" stroke="#8c8466" stroke-width="1.5"/>
<line x1="1608.4" y1="375.2" x2="1643.0" y2="392.5" stroke="#8c8466" stroke-width="1.5"/>
<line x1="1597.1" y1="390.3" x2="1632.4" y2="408.2" stroke="#8c8466" stroke-width="1.5"/>
<line x1="1591.9" y1="397.7" x2="1588.1" y2="403.7" stroke="#8c8466" stroke-width="1.5"/>
<line x1="1586.1" y1="407.4" x2="1622.7" y2="426.3" stroke="#8c8466" stroke-width="1.5"/>
<line x1="1579.2" y1="416.5" x2="1575.0" y2="423.8" stroke="#8c8466" stroke-width="1.5"/>
<line x1="1574.7" y1="423.6" x2="1609.6" y2="441.8" stroke="#8c8466" stroke-width="1.5"/>
<line x1="1566.4" y1="350.4" x2="1576.1" y2="355.7" stroke="#8c8466" stroke-width="1.5"/>
<line x1="1576.1" y1="355.7" x2="1573.8" y2="359.4" stroke="#8c8466" stroke-width="1.5"/>
<line x1="1558.8" y1="364.6" x2="1583.6" y2="377.4" stroke="#8c8466" stroke-width="1.5"/>
<line x1="1583.6" y1="377.4" x2="1577.6" y2="387.9" stroke="#8c8466" stroke-width="1.5"/>
<line x1="1556.3" y1="391.1" x2="1570.9" y2="398.5" stroke="#8c8466" stroke-width="1.5"/>
<line x1="1573.9" y1="393.3" x2="1570.9" y2="398.5" stroke="#8c8466" stroke-width="1.5"/>
<line x1="1519.5" y1="420.6" x2="1545.1" y2="434.1" stroke="#8c8466" stroke-width="1.5"/>
<line x1="1557.3" y1="417.3" x2="1545.1" y2="434.1" stroke="#8c8466" stroke-width="1.5"/>
<line x1="1510.8" y1="430.7" x2="1536.7" y2="444.4" stroke="#8c8466" stroke-width="1.5"/>
<line x1="1569.4" y1="430.8" x2="1559.1" y2="446.1" stroke="#8c8466" stroke-width="1.5"/>
<line x1="1545.1" y1="448.9" x2="1555.5" y2="453.7" stroke="#8c8466" stroke-width="1.5"/>
<line x1="1565.6" y1="438.2" x2="1601.8" y2="457.1" stroke="#8c8466" stroke-width="1.5"/>
<line x1="1556.1" y1="454.6" x2="1591.5" y2="473.3" stroke="#8c8466" stroke-width="1.5"/>
<line x1="1599.0" y1="345.0" x2="1603.0" y2="347.0" stroke="#8c8466" stroke-width="1.5"/>
<line x1="1620.1" y1="348.7" x2="1625.0" y2="351.1" stroke="#8c8466" stroke-width="1.5"/>
<line x1="1382.5" y1="314.1" x2="1357.8" y2="346.2" stroke="#7a5fd0" stroke-width="1.1"/>
<line x1="1405.0" y1="325.7" x2="1380.4" y2="358.1" stroke="#7a5fd0" stroke-width="1.1"/>
<line x1="1426.5" y1="336.9" x2="1401.9" y2="369.4" stroke="#7a5fd0" stroke-width="1.1"/>
<line x1="1490.7" y1="370.2" x2="1466.4" y2="403.4" stroke="#7a5fd0" stroke-width="1.1"/>
<line x1="1326.5" y1="354.4" x2="1306.9" y2="379.6" stroke="#7a5fd0" stroke-width="1.1"/>
<line x1="1395.1" y1="390.8" x2="1375.7" y2="416.6" stroke="#7a5fd0" stroke-width="1.1"/>
<line x1="1410.8" y1="399.2" x2="1391.5" y2="425.1" stroke="#7a5fd0" stroke-width="1.1"/>
<line x1="1432.2" y1="410.5" x2="1412.9" y2="436.6" stroke="#7a5fd0" stroke-width="1.1"/>
<line x1="963.8" y1="93.5" x2="940.6" y2="118.1" stroke="#b07070" stroke-width="0.9"/>
<line x1="982.9" y1="103.4" x2="959.8" y2="128.1" stroke="#b07070" stroke-width="0.9"/>
<line x1="1002.2" y1="113.4" x2="979.1" y2="138.3" stroke="#b07070" stroke-width="0.9"/>
<line x1="1029.9" y1="127.7" x2="1006.9" y2="152.9" stroke="#b07070" stroke-width="0.9"/>
<line x1="1056.8" y1="141.7" x2="1033.9" y2="167.0" stroke="#b07070" stroke-width="0.9"/>
<line x1="753.4" y1="247.3" x2="785.2" y2="265.5" stroke="#b07070" stroke-width="0.9"/>
<line x1="948.0" y1="147.3" x2="925.1" y2="171.8" stroke="#b07070" stroke-width="0.8"/>
<line x1="856.5" y1="139.9" x2="720.1" y2="281.9" stroke="#9a7a7a" stroke-width="1.0"/>
<line x1="474.6" y1="575.8" x2="504.1" y2="544.9" stroke="#4a4030" stroke-width="0.9"/>
<line x1="504.1" y1="544.9" x2="462.4" y2="517.1" stroke="#4a4030" stroke-width="0.9"/>
<line x1="462.4" y1="517.1" x2="544.6" y2="432.3" stroke="#4a4030" stroke-width="0.9"/>
<line x1="544.6" y1="432.3" x2="562.5" y2="443.7" stroke="#4a4030" stroke-width="0.9"/>
<line x1="562.5" y1="443.7" x2="574.4" y2="431.3" stroke="#4a4030" stroke-width="0.9"/>
<line x1="520.4" y1="486.1" x2="522.1" y2="487.2" stroke="#6a5a30" stroke-width="1.6"/>
<line x1="489.1" y1="518.7" x2="490.7" y2="519.8" stroke="#6a5a30" stroke-width="1.6"/>
<line x1="858.7" y1="71.6" x2="866.5" y2="75.7" stroke="#a070b0" stroke-width="1.0"/>
<line x1="866.5" y1="75.7" x2="862.7" y2="79.5" stroke="#a070b0" stroke-width="1.0"/>
<line x1="852.6" y1="77.8" x2="862.4" y2="82.9" stroke="#a070b0" stroke-width="1.0"/>
<line x1="864.8" y1="86.5" x2="857.2" y2="94.4" stroke="#a070b0" stroke-width="1.0"/>
<line x1="869.7" y1="89.1" x2="862.1" y2="97.0" stroke="#a070b0" stroke-width="1.0"/>
<line x1="852.0" y1="84.5" x2="857.8" y2="87.6" stroke="#a070b0" stroke-width="1.0"/>
<line x1="851.6" y1="71.3" x2="856.4" y2="73.9" stroke="#a070b0" stroke-width="1.0"/>
<line x1="1323.9" y1="292.5" x2="1330.9" y2="296.1" stroke="#a070b0" stroke-width="1.0"/>
<line x1="1330.9" y1="296.1" x2="1325.2" y2="303.3" stroke="#a070b0" stroke-width="1.0"/>
<line x1="1316.8" y1="301.5" x2="1326.1" y2="306.4" stroke="#a070b0" stroke-width="1.0"/>
<line x1="1316.0" y1="308.7" x2="1310.3" y2="316.0" stroke="#a070b0" stroke-width="1.0"/>
<line x1="1319.2" y1="313.0" x2="1312.1" y2="322.1" stroke="#a070b0" stroke-width="1.0"/>
<polygon points="1558.1,392.0 1555.8,395.4 1558.8,388.5 1561.2,385.1" fill="#6d6d6d"/>
<polygon points="1542.0,388.3 1555.8,395.4 1558.8,388.5 1545.0,381.4" fill="#717171"/>
<polygon points="1567.9,403.6 1565.6,407.0 1568.7,400.0 1571.1,396.7" fill="#6d6d6d"/>
<polygon points="1551.1,399.5 1565.6,407.0 1568.7,400.0 1554.2,392.6" fill="#717171"/>
<polygon points="1547.4,378.1 1561.2,385.1 1558.8,388.5 1545.0,381.4" fill="#909090"/>
<polygon points="1556.6,389.2 1571.1,396.7 1568.7,400.0 1554.2,392.6" fill="#909090"/>
</g>
<polygon points="1639.1,246.2 1716.5,288.3 1713.5,302.1 1629.0,258.9" fill="#9b9b9b"/>
<polygon points="1716.5,288.3 1741.7,258.2 1740.6,262.4 1713.5,302.1" fill="#8b8b8b"/>
<polygon points="1650.4,215.8 1741.7,258.2 1716.5,288.6 1639.1,246.5 1642.1,231.9 1645.1,229.6" fill="#858585"/>
<polygon points="1651.1,218.3 1665.4,225.1 1657.9,238.6 1646.6,232.6" fill="#6e6e6e"/>
<polygon points="1646.6,236.4 1673.7,250.4 1666.2,261.2 1639.1,247.2" fill="#fff0b8"/>
<polygon points="1678.2,252.5 1694.7,261.2 1686.5,270.7 1670.2,262.4" fill="#fff0b8"/>
<polygon points="1706.3,244.7 1735.8,259.4 1716.5,285.3 1688.7,270.7 1695.5,262.0 1697.0,255.2" fill="#fff0b8"/>
<polygon points="1665.4,225.1 1703.8,243.9 1694.7,258.5 1657.9,238.9" fill="#565656"/>
<polyline points="1710.5,253.7 1718.0,257.0 1716.5,250.7 1715.8,257.0" fill="none" stroke="#8c8466" stroke-width="1.3"/>
<polyline points="1701.5,249.5 1706.3,251.9" fill="none" stroke="#8c8466" stroke-width="1.3"/>
<line x1="1610.9" y1="282.1" x2="1605.7" y2="294.5" stroke="#a8a8a8" stroke-width="3" stroke-linecap="round"/>
<line x1="1653.9" y1="304.6" x2="1648.7" y2="317.0" stroke="#a8a8a8" stroke-width="3" stroke-linecap="round"/>
<line x1="1692.6" y1="323.8" x2="1687.4" y2="336.2" stroke="#a8a8a8" stroke-width="3" stroke-linecap="round"/>
<line x1="221.2" y1="759.8" x2="226.2" y2="766.4" stroke="#898989" stroke-width="5.6" stroke-linecap="round"/>
<line x1="183.3" y1="799.2" x2="188.3" y2="805.8" stroke="#898989" stroke-width="5.6" stroke-linecap="round"/>
<line x1="281.1" y1="802.4" x2="286.1" y2="809.0" stroke="#898989" stroke-width="5.6" stroke-linecap="round"/>
<line x1="243.2" y1="843.4" x2="248.2" y2="850.0" stroke="#898989" stroke-width="5.6" stroke-linecap="round"/>
<line x1="211.7" y1="875.9" x2="216.7" y2="882.5" stroke="#898989" stroke-width="5.6" stroke-linecap="round"/>
<polygon points="160.5,816.8 209.4,857.3 187.3,880.5 138.9,840.5" fill="#8d8d8d"/>
<polygon points="138.9,840.5 144.7,838.4 182.6,866.8 187.3,880.5" fill="#868686"/>
<polygon points="182.6,866.8 199.9,846.3 209.4,857.3 187.3,880.5" fill="#929292"/>
<polygon points="160.0,820.5 198.4,846.3 182.6,866.8 144.7,838.4" fill="#5e5e5e"/>
<circle cx="607.6" cy="427.4" r="3.1" fill="#1a1a1a"/>
<circle cx="618.2" cy="426.8" r="3.1" fill="#1a1a1a"/>
<polygon points="603.2,432 611.2,431.6 608.6,440.4" fill="#1a1a1a"/>
<polygon points="618.6,431.2 613.6,441.6 623.4,441.6" fill="#1a1a1a"/>
<circle cx="974.1" cy="115.8" r="19.8" fill="#ffffff" fill-opacity="0.6" stroke="#6a5050" stroke-width="0.9"/>
<text x="974.1" y="121.7" font-size="16.5" font-weight="bold" fill="#231f20" stroke="#231f20" stroke-width="0.5" text-anchor="middle" textLength="29.5" lengthAdjust="spacingAndGlyphs">103</text>
<circle cx="1016.2" cy="137.3" r="19.8" fill="#ffffff" fill-opacity="0.6" stroke="#6a5050" stroke-width="0.9"/>
<text x="1016.2" y="143.2" font-size="16.5" font-weight="bold" fill="#231f20" stroke="#231f20" stroke-width="0.5" text-anchor="middle" textLength="29.5" lengthAdjust="spacingAndGlyphs">102</text>
<circle cx="907.5" cy="145.8" r="19.8" fill="#ffffff" fill-opacity="0.6" stroke="#6a5050" stroke-width="0.9"/>
<text x="907.5" y="151.7" font-size="16.5" font-weight="bold" fill="#231f20" stroke="#231f20" stroke-width="0.5" text-anchor="middle" textLength="29.5" lengthAdjust="spacingAndGlyphs">106</text>
<circle cx="953.6" cy="167.9" r="19.8" fill="#ffffff" fill-opacity="0.6" stroke="#6a5050" stroke-width="0.9"/>
<text x="953.6" y="173.8" font-size="16.5" font-weight="bold" fill="#231f20" stroke="#231f20" stroke-width="0.5" text-anchor="middle" textLength="29.5" lengthAdjust="spacingAndGlyphs">107</text>
<circle cx="754.7" cy="275.0" r="19.8" fill="#ffffff" fill-opacity="0.6" stroke="#6a5050" stroke-width="0.9"/>
<text x="754.7" y="280.9" font-size="16.5" font-weight="bold" fill="#231f20" stroke="#231f20" stroke-width="0.5" text-anchor="middle" textLength="29.5" lengthAdjust="spacingAndGlyphs">101</text>
<path d="M809.1 361 V325.4 H921.5" fill="none" stroke="#222" stroke-width="1.1"/><circle cx="809.1" cy="361" r="3.6" fill="#fff" stroke="#222" stroke-width="1.1"/>
<path d="M565.0 472.4 V577.8 H709.0" fill="none" stroke="#222" stroke-width="1.1"/>
<circle cx="565.0" cy="472.4" r="3.6" fill="#fff" stroke="#222" stroke-width="1.1"/>
<path d="M1707.6 273.8 V407.4 H1902.0" fill="none" stroke="#222" stroke-width="1.1"/>
<circle cx="1707.6" cy="273.8" r="3.6" fill="#fff" stroke="#222" stroke-width="1.1"/>
<path d="M1583.9 404.9 V485.8 H1902.0" fill="none" stroke="#222" stroke-width="1.1"/>
<circle cx="1583.9" cy="404.9" r="3.6" fill="#fff" stroke="#222" stroke-width="1.1"/>
<text x="850.8" y="320.0" font-size="13.2" fill="#2b2b2b" text-anchor="start" textLength="70.5" lengthAdjust="spacingAndGlyphs" font-weight="normal">ГАРДЕРОБ</text>
<text x="631.5" y="566.8" font-size="13.2" fill="#2b2b2b" text-anchor="start" textLength="77.5" lengthAdjust="spacingAndGlyphs" font-weight="normal">СТОЛОВАЯ</text>
<text x="1755.1" y="379.1" font-size="13.2" fill="#2b2b2b" text-anchor="start" textLength="146.5" lengthAdjust="spacingAndGlyphs" font-weight="normal">ОТДЕЛ УПРАВЛЕНИЯ</text>
<text x="1755.1" y="399.0" font-size="13.2" fill="#2b2b2b" text-anchor="start" textLength="120.5" lengthAdjust="spacingAndGlyphs" font-weight="normal">ОБЩЕЖИТИЯМИ</text>
<text x="1688.8" y="475.5" font-size="13.2" fill="#2b2b2b" text-anchor="start" textLength="213.0" lengthAdjust="spacingAndGlyphs" font-weight="normal">(ЦОП) ПРИЁМНАЯ КОМИССИЯ</text>
<polygon points="1518,208.6 1585,208.6 1585,197 1643.6,220.6 1585,244.8 1585,232.6 1518,232.6" fill="#fff" stroke="#111" stroke-width="2.2" stroke-linejoin="miter"/>
<text x="1531.0" y="225.3" font-size="13.5" fill="#222" text-anchor="start" textLength="39.0" lengthAdjust="spacingAndGlyphs" font-weight="normal">ВХОД</text>
<polygon points="832.9,440.5 889.9,417.9 889.9,430.5 956.7,430.5 956.7,450.5 889.9,450.5 889.9,464.2" fill="#fff" stroke="#111" stroke-width="2.2" stroke-linejoin="miter"/>
<text x="904.7" y="446.2" font-size="13.5" fill="#222" text-anchor="start" textLength="38.5" lengthAdjust="spacingAndGlyphs" font-weight="normal">ВХОД</text>
<polygon points="832.1,470.5 898.4,470.5 898.4,458.9 956.7,482.3 898.4,505.7 898.4,494.1 832.1,494.1" fill="#fff" stroke="#111" stroke-width="2.2" stroke-linejoin="miter"/>
<text x="840.5" y="486.6" font-size="13.5" fill="#222" text-anchor="start" textLength="51.0" lengthAdjust="spacingAndGlyphs" font-weight="normal">ВЫХОД</text>
<rect x="1065.7" y="615.4" width="35" height="35" rx="4.5" fill="#ffcccc" stroke="#4a4a4a" stroke-width="0.9"/>
<rect x="1065.7" y="660.3" width="35" height="35" rx="4.5" fill="#b9a5ff" stroke="#4a4a4a" stroke-width="0.9"/>
<rect x="1065.7" y="704.4" width="35" height="35" rx="4.5" fill="#dc1ef5" stroke="#4a4a4a" stroke-width="0.9"/>
<rect x="1065.7" y="748.0" width="35" height="35" rx="4.5" fill="#e4bbe8" stroke="#4a4a4a" stroke-width="0.9"/>
<rect x="1331.3" y="615.4" width="35" height="35" rx="4.5" fill="#4d4d4d" stroke="#4a4a4a" stroke-width="0.9"/>
<rect x="1331.3" y="658.2" width="35" height="35" rx="4.5" fill="#fff0b8" stroke="#4a4a4a" stroke-width="0.9"/>
<text x="1120.1" y="641.1" font-size="20.0" fill="#4a4a4a" text-anchor="start" textLength="113.5" lengthAdjust="spacingAndGlyphs" font-weight="normal">Факультет Е</text>
<text x="1120.1" y="686.3" font-size="20.0" fill="#4a4a4a" text-anchor="start" textLength="117.5" lengthAdjust="spacingAndGlyphs" font-weight="normal">Факультет И</text>
<text x="1120.1" y="726.9" font-size="20.0" fill="#4a4a4a" text-anchor="start" textLength="49.0" lengthAdjust="spacingAndGlyphs" font-weight="normal">Лифт</text>
<text x="1120.1" y="770.7" font-size="20.0" fill="#4a4a4a" text-anchor="start" textLength="77.5" lengthAdjust="spacingAndGlyphs" font-weight="normal">Туалеты</text>
<text x="1385.6" y="638.5" font-size="20.0" fill="#4a4a4a" text-anchor="start" textLength="96.0" lengthAdjust="spacingAndGlyphs" font-weight="normal">Лестницы</text>
<text x="1385.6" y="673.1" font-size="20.0" fill="#4a4a4a" text-anchor="start" textLength="206.8" lengthAdjust="spacingAndGlyphs" font-weight="normal">Административные и</text>
<text x="1385.6" y="696.2" font-size="20.0" fill="#4a4a4a" text-anchor="start" textLength="264.5" lengthAdjust="spacingAndGlyphs" font-weight="normal">общественные помещения</text>
</svg>
</body></html>
